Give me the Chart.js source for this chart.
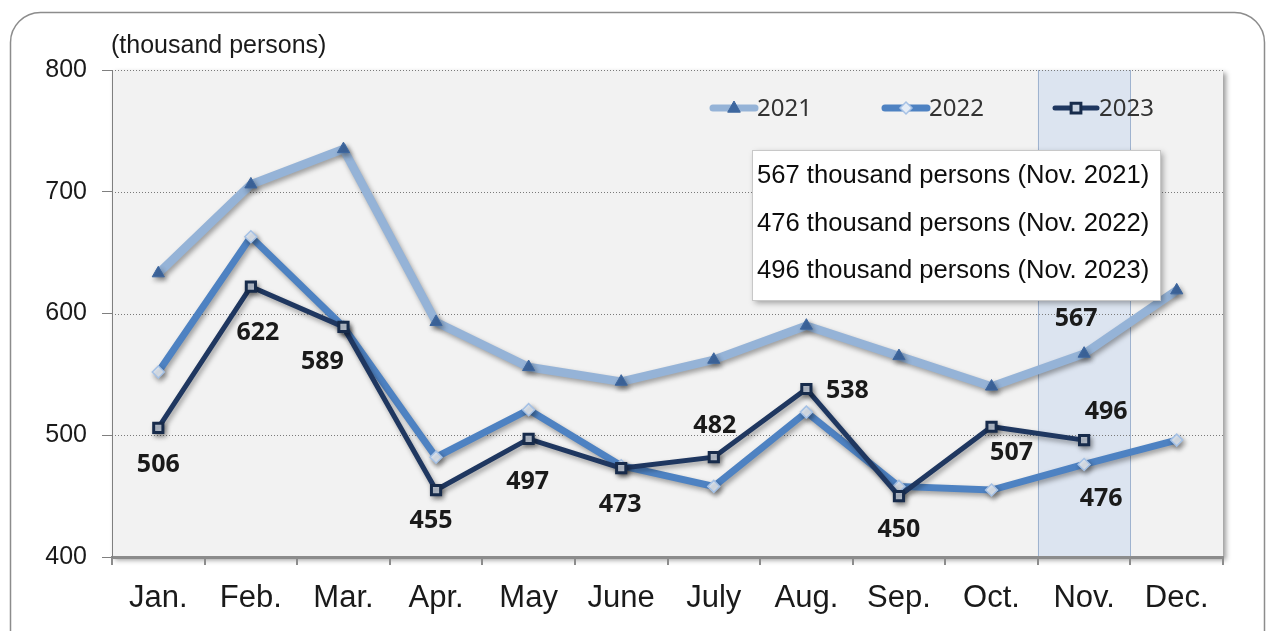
<!DOCTYPE html>
<html>
<head>
<meta charset="utf-8">
<script src="https://cdn.jsdelivr.net/npm/chart.js@4.4.1/dist/chart.umd.min.js"></script>
<style>
html,body{margin:0;padding:0;background:#fff;}
canvas{display:block;}
</style>
</head>
<body>
<canvas id="c" width="1270" height="631"></canvas>
<script>
// ---- data ----
const categories = ['Jan.','Feb.','Mar.','Apr.','May','June','July','Aug.','Sep.','Oct.','Nov.','Dec.'];
const seriesNames = ['2021','2022','2023'];
const values2021 = [633, 706, 735, 593, 556, 544, 562, 590, 565, 540, 567, 619];
const values2022 = [552, 663, 589, 482, 521, 475, 458, 519, 458, 455, 476, 496];
const values2023 = [506, 622, 589, 455, 497, 473, 482, 538, 450, 507, 496, null];
const yTicks = [400, 500, 600, 700, 800];
const unitLabel = '(thousand persons)';
const highlightMonth = 'Nov.';
const noteLines = [
  '567 thousand persons (Nov. 2021)',
  '476 thousand persons (Nov. 2022)',
  '496 thousand persons (Nov. 2023)'
];
// which points get a value label: [series index, month index]
const labelledPoints = [
  [2,0],[2,1],[2,2],[2,3],[2,4],[2,5],[2,6],[2,7],[2,8],[2,9],[2,10],
  [0,10],[1,10]
];

// ---- styles ----
const labelOffsets = {
  '2,0':[0,37],'2,1':[7,46],'2,2':[-21,35],'2,3':[-5,31],'2,4':[-1,43],'2,5':[-1,37],
  '2,6':[1,-31],'2,7':[41,2],'2,8':[0,34],'2,9':[20,26],'2,10':[22,-28],
  '0,10':[-8,-35],'1,10':[17,34]
};
const seriesStyle = [
  {line:'#95B3D7', width:8.5, pointStyle:'triangle', radius:7, fill:'#3E679F', border:'#3E679F', bw:1},
  {line:'#4E82C2', width:7, pointStyle:'rectRot', radius:6, fill:'#E4ECF6', border:'#A5C1E5', bw:1.5},
  {line:'#1F3760', width:5, pointStyle:'rect', radius:6.5, fill:'#C9D3E2', border:'#172B4B', bw:3}
];
const seriesValues = [values2021, values2022, values2023];

function drawMarker(ctx, style, x, y) {
  ctx.save();
  ctx.fillStyle = style.fill; ctx.strokeStyle = style.border; ctx.lineWidth = style.bw;
  const r = style.radius;
  ctx.beginPath();
  if (style.pointStyle === 'triangle') {
    ctx.moveTo(x, y - r); ctx.lineTo(x + r*0.9, y + r*0.6); ctx.lineTo(x - r*0.9, y + r*0.6); ctx.closePath();
  } else if (style.pointStyle === 'rectRot') {
    ctx.moveTo(x, y - r); ctx.lineTo(x + r, y); ctx.lineTo(x, y + r); ctx.lineTo(x - r, y); ctx.closePath();
  } else {
    ctx.rect(x - r*0.75, y - r*0.75, r*1.5, r*1.5);
  }
  ctx.fill(); ctx.stroke();
  ctx.restore();
}

function rrect(ctx, x, y, w, h, r) {
  ctx.beginPath();
  ctx.moveTo(x + r, y);
  ctx.lineTo(x + w - r, y);
  ctx.arcTo(x + w, y, x + w, y + r, r);
  ctx.lineTo(x + w, y + h - r);
  ctx.arcTo(x + w, y + h, x + w - r, y + h, r);
  ctx.lineTo(x + r, y + h);
  ctx.arcTo(x, y + h, x, y + h - r, r);
  ctx.lineTo(x, y + r);
  ctx.arcTo(x, y, x + r, y, r);
  ctx.closePath();
}

const decorPlugin = {
  id: 'decor',
  beforeDraw(chart) {
    const {ctx, chartArea: a, scales: {x}} = chart;
    ctx.save();
    ctx.fillStyle = '#ffffff';
    ctx.fillRect(0, 0, chart.width, chart.height);
    ctx.strokeStyle = '#8c8c8c'; ctx.lineWidth = 1.5;
    rrect(ctx, 10.5, 12.5, 1254, 680, 30);
    ctx.stroke();
    // plot background with shadow
    ctx.shadowColor = 'rgba(0,0,0,0.4)'; ctx.shadowBlur = 5; ctx.shadowOffsetX = 3; ctx.shadowOffsetY = 3;
    ctx.fillStyle = '#f2f2f2';
    ctx.fillRect(a.left, a.top, a.right - a.left, a.bottom - a.top);
    ctx.restore();
    // highlight band
    const i = categories.indexOf(highlightMonth);
    const half = (x.getPixelForValue(1) - x.getPixelForValue(0)) / 2;
    const cx = x.getPixelForValue(i);
    ctx.save();
    ctx.fillStyle = 'rgba(205,219,238,0.6)';
    ctx.fillRect(cx - half, a.top, half * 2, a.bottom - a.top);
    ctx.strokeStyle = '#9fb3cf'; ctx.lineWidth = 1;
    ctx.beginPath();
    ctx.moveTo(Math.round(cx - half) + 0.5, a.top); ctx.lineTo(Math.round(cx - half) + 0.5, a.bottom);
    ctx.moveTo(Math.round(cx + half) + 0.5, a.top); ctx.lineTo(Math.round(cx + half) + 0.5, a.bottom);
    ctx.stroke();
    ctx.restore();
  },
  beforeDatasetsDraw(chart) {
    const {ctx, chartArea: a, scales: {y}} = chart;
    ctx.save();
    ctx.strokeStyle = '#7a7a7a'; ctx.lineWidth = 1; ctx.setLineDash([1, 2]);
    yTicks.forEach(v => {
      if (v === y.min) return;
      const py = Math.round(y.getPixelForValue(v)) + 0.5;
      ctx.beginPath(); ctx.moveTo(a.left, py); ctx.lineTo(a.right, py); ctx.stroke();
    });
    ctx.restore();
  },
  beforeDatasetDraw(chart) {
    const ctx = chart.ctx;
    ctx.save();
    ctx.shadowColor = 'rgba(0,0,0,0.35)'; ctx.shadowBlur = 5; ctx.shadowOffsetX = 2; ctx.shadowOffsetY = 3;
  },
  afterDatasetDraw(chart) {
    chart.ctx.restore();
  },
  afterDatasetsDraw(chart) {
    const {ctx} = chart;
    // unit label
    ctx.save();
    ctx.fillStyle = '#1a1a1a';
    ctx.font = '25px "Liberation Sans", Arial, sans-serif';
    ctx.textAlign = 'left'; ctx.textBaseline = 'middle';
    ctx.fillText(unitLabel, 111, 46);
    ctx.restore();

    // annotation box
    ctx.save();
    ctx.shadowColor = 'rgba(0,0,0,0.35)'; ctx.shadowBlur = 6; ctx.shadowOffsetX = 3; ctx.shadowOffsetY = 3;
    ctx.fillStyle = '#ffffff';
    ctx.fillRect(752, 150, 408, 150);
    ctx.restore();
    ctx.save();
    ctx.strokeStyle = '#c8c8c8'; ctx.lineWidth = 1;
    ctx.strokeRect(752.5, 150.5, 408, 150);
    ctx.fillStyle = '#0d0d0d';
    ctx.font = '25.6px "Liberation Sans", Arial, sans-serif';
    ctx.textAlign = 'left'; ctx.textBaseline = 'middle';
    noteLines.forEach((t, k) => ctx.fillText(t, 757, 176 + k * 47.5));
    ctx.restore();

    // value labels
    ctx.save();
    ctx.fillStyle = '#1a1a1a';
    ctx.font = 'bold 25px "Noto Sans", "Open Sans", sans-serif';
    ctx.textAlign = 'center'; ctx.textBaseline = 'middle';
    labelledPoints.forEach(([s, i]) => {
      const el = chart.getDatasetMeta(s).data[i];
      const off = labelOffsets[s + ',' + i] || [0, 0];
      ctx.fillText(String(seriesValues[s][i]), el.x + off[0], el.y + off[1]);
    });
    ctx.restore();

    // legend
    const legendX = [710, 882, 1052];
    const ly = 108;
    ctx.save();
    seriesNames.forEach((name, k) => {
      const st = seriesStyle[k];
      const x0 = legendX[k];
      ctx.save();
      ctx.strokeStyle = st.line; ctx.lineWidth = Math.min(st.width, 7); ctx.lineCap = 'round';
      ctx.beginPath(); ctx.moveTo(x0 + 3, ly); ctx.lineTo(x0 + 45, ly); ctx.stroke();
      ctx.restore();
      drawMarker(ctx, st, x0 + 24, ly);
      ctx.fillStyle = '#333333';
      ctx.font = '24px "Noto Sans", "Open Sans", sans-serif';
      ctx.textAlign = 'left'; ctx.textBaseline = 'middle';
      ctx.fillText(name, x0 + 47, ly + 1);
    });
    ctx.restore();
  }
};

const datasets = seriesNames.map((name, k) => {
  const st = seriesStyle[k];
  return {
    label: name,
    data: seriesValues[k],
    borderColor: st.line,
    borderWidth: st.width,
    backgroundColor: st.fill,
    pointStyle: st.pointStyle,
    pointRadius: st.radius,
    pointBackgroundColor: st.fill,
    pointBorderColor: st.border,
    pointBorderWidth: st.bw,
    tension: 0,
    fill: false,
    spanGaps: false,
    order: 3 - k
  };
});

new Chart(document.getElementById('c'), {
  type: 'line',
  data: { labels: categories, datasets },
  options: {
    responsive: false,
    animation: false,
    events: [],
    layout: { padding: { left: 0, top: 70, right: 47, bottom: 0 } },
    plugins: { legend: { display: false }, tooltip: { enabled: false }, title: { display: false } },
    scales: {
      x: {
        type: 'category',
        offset: true,
        afterFit: s => { s.height = 74; },
        grid: { display: true, drawOnChartArea: false, drawTicks: true, tickLength: 8, offset: true, color: '#8c8c8c', lineWidth: 2 },
        border: { display: true, color: '#8c8c8c', width: 3 },
        ticks: { color: '#1a1a1a', font: { family: '"Liberation Sans", Arial, sans-serif', size: 31 }, padding: 15, maxRotation: 0, autoSkip: false }
      },
      y: {
        min: 400, max: 800,
        afterFit: s => { s.width = 112; },
        afterBuildTicks: s => { s.ticks = yTicks.map(v => ({ value: v })); },
        grid: { display: true, drawOnChartArea: false, drawTicks: true, tickLength: 10, color: '#7f7f7f' },
        border: { display: true, color: '#7f7f7f', width: 1 },
        ticks: { color: '#1a1a1a', font: { family: '"Liberation Sans", Arial, sans-serif', size: 25 }, padding: 15 }
      }
    }
  },
  plugins: [decorPlugin]
});
</script>
</body>
</html>
